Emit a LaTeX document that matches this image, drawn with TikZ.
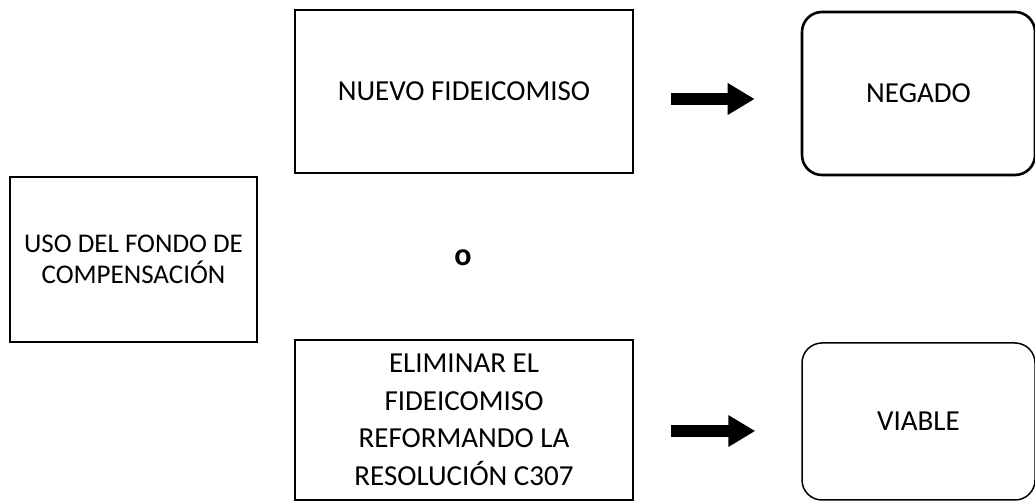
\documentclass[tikz,border=0pt]{standalone}
\usepackage{fontspec}
\setmainfont{Carlito}
\usetikzlibrary{arrows.meta, positioning}

\tikzset{
    caja/.style={draw, line width=2.6pt, inner sep=0pt, align=center,
        font=\fontsize{29}{37.5}\selectfont},
    cajaredonda/.style={caja, rounded corners=20pt},
    flecha/.style={line width=11.5pt, -{Triangle[length=27pt,width=30pt]},
        shorten <=37pt, shorten >=46pt}
}

\begin{document}
\begin{tikzpicture}[x=1pt,y=1pt]
\useasboundingbox (0,0) rectangle (1035,502);

% Izquierda
\node[caja, minimum width=247pt, minimum height=165pt,
      font=\fontsize{27}{31}\selectfont] (fondo) at (133.5,242.5)
      {USO DEL FONDO DE\\COMPENSACIÓN};

% Opciones (centro)
\node[caja, minimum width=338pt, minimum height=163pt] (nuevo) at (464,410.5)
      {NUEVO FIDEICOMISO};
\node[caja, line width=1.8pt, minimum width=338pt, minimum height=160pt] (eliminar) at (464,82)
      {ELIMINAR EL\\FIDEICOMISO\\REFORMANDO LA\\RESOLUCIÓN C307};
\node[font=\fontsize{32}{32}\selectfont\bfseries] (o) at (463,244) {o};

% Resultados (derecha)
\node[cajaredonda, minimum width=233pt, minimum height=163pt] (negado) at (918.5,408.5)
      {NEGADO};
\node[cajaredonda, line width=1.5pt, minimum width=233pt, minimum height=157pt] (viable) at (918.5,80.5)
      {VIABLE};

% Flechas
\draw[flecha] ([yshift=-7.5pt]nuevo.east) -- ([yshift=-7.5pt]nuevo.east -| negado.west);
\draw[flecha] ([yshift=-11pt]eliminar.east) -- ([yshift=-11pt]eliminar.east -| viable.west);

\end{tikzpicture}
\end{document}
